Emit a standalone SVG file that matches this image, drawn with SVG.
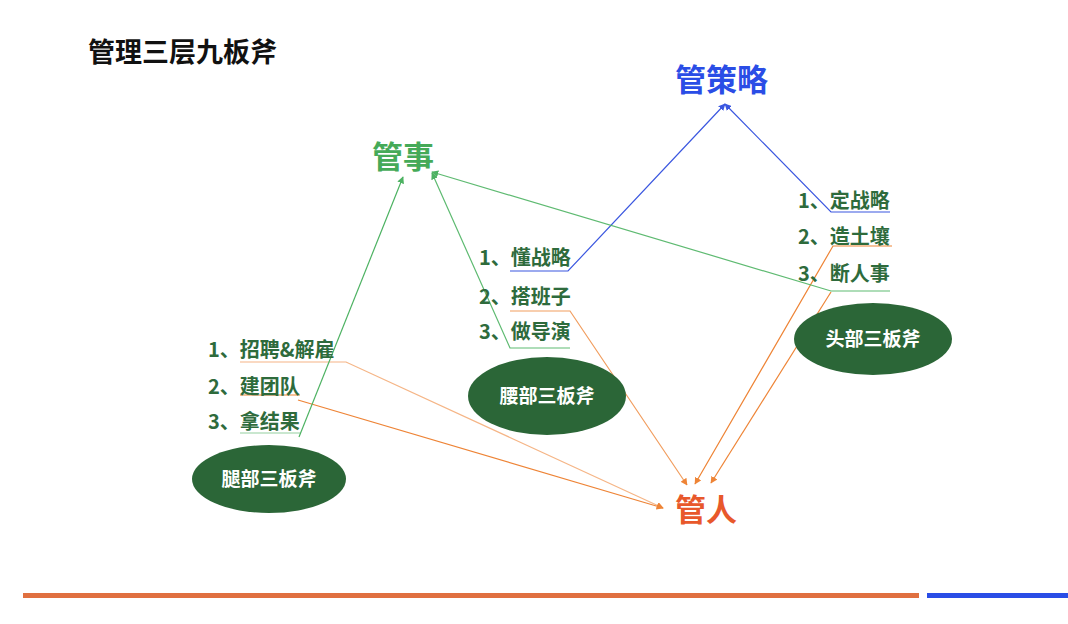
<svg xmlns="http://www.w3.org/2000/svg" width="1068" height="624" viewBox="0 0 1068 624">
<style>
text{font-family:"Noto Sans CJK SC","Noto Sans",sans-serif;font-weight:bold}
.item{font-size:20px;fill:#2E6B3C}
.oval{fill:#2B6637}
.ovt{font-size:19px;fill:#ffffff;text-anchor:middle}
.big{font-size:31px}
.ln{fill:none;stroke-width:1.2}
.b{stroke:#3B57E0}.g{stroke:#4DB262}.o{stroke:#EE8436}
</style>
<defs>
<marker id="ab" viewBox="0 0 10 10" refX="9" refY="5" markerWidth="7" markerHeight="7" orient="auto" markerUnits="userSpaceOnUse"><path d="M0,0L10,5L0,10z" fill="#3B57E0"/></marker>
<marker id="ag" viewBox="0 0 10 10" refX="9" refY="5" markerWidth="7" markerHeight="7" orient="auto" markerUnits="userSpaceOnUse"><path d="M0,0L10,5L0,10z" fill="#4DB262"/></marker>
<marker id="ao" viewBox="0 0 10 10" refX="9" refY="5" markerWidth="7" markerHeight="7" orient="auto" markerUnits="userSpaceOnUse"><path d="M0,0L10,5L0,10z" fill="#EE8436"/></marker>
</defs>
<rect width="1068" height="624" fill="#ffffff"/>
<g id="title"><text x="88" y="62" font-size="27" fill="#111111">管理三层九板斧</text></g>
<g id="n-strategy"><text class="big" x="675" y="91" fill="#2A4DE6">管策略</text></g>
<g id="n-affairs"><text class="big" x="372" y="168" fill="#45AA58">管事</text></g>
<g id="n-people"><text class="big" x="675" y="521" fill="#E8582B">管人</text></g>
<g id="connectors">
<polyline class="ln o" points="240,362 346,362 663,508" stroke-opacity="0.6" marker-end="url(#ao)"/>
<line class="ln o" x1="240" y1="395" x2="300" y2="395"/>
<line class="ln o" x1="298" y1="400" x2="663" y2="508" marker-end="url(#ao)"/>
<polyline class="ln g" points="240,433 300,433" stroke-opacity="0.6"/>
<line class="ln g" x1="299" y1="437" x2="403" y2="177" marker-end="url(#ag)"/>
<polyline class="ln b" points="510,271 568,271 725,104" marker-end="url(#ab)"/>
<polyline class="ln o" points="510,311 570,311 687,485" stroke-opacity="0.8" marker-end="url(#ao)"/>
<polyline class="ln g" points="570,348 510,348 432,173" stroke-opacity="0.9" marker-end="url(#ag)"/>
<polyline class="ln b" points="890,212 831,212 725,104" marker-end="url(#ab)"/>
<polyline class="ln o" points="892,246 833,246 695,484" marker-end="url(#ao)"/>
<polyline class="ln g" points="890,291 831,291 432,172" stroke-opacity="0.9" marker-end="url(#ag)"/>
<line class="ln o" x1="831" y1="292" x2="711" y2="483" marker-end="url(#ao)"/>
</g>
<g id="n-leg">
<text class="item" x="208" y="357">1、招聘&amp;解雇</text>
<text class="item" x="208" y="394">2、建团队</text>
<text class="item" x="208" y="429">3、拿结果</text>
<ellipse class="oval" cx="269" cy="479" rx="77" ry="34"/>
<text class="ovt" x="269" y="486">腿部三板斧</text>
</g>
<g id="n-waist">
<text class="item" x="479" y="265">1、懂战略</text>
<text class="item" x="479" y="304">2、搭班子</text>
<text class="item" x="479" y="339">3、做导演</text>
<ellipse class="oval" cx="547" cy="396" rx="79" ry="39"/>
<text class="ovt" x="547" y="403">腰部三板斧</text>
</g>
<g id="n-head">
<text class="item" x="798" y="208">1、定战略</text>
<text class="item" x="798" y="244">2、造土壤</text>
<text class="item" x="798" y="281">3、断人事</text>
<ellipse class="oval" cx="873" cy="339" rx="79" ry="36"/>
<text class="ovt" x="873" y="346">头部三板斧</text>
</g>
<g id="footer">
<rect x="23" y="593" width="896" height="5" fill="#E07040"/>
<rect x="927" y="593" width="141" height="5" fill="#2A4DE6"/>
</g>
</svg>
